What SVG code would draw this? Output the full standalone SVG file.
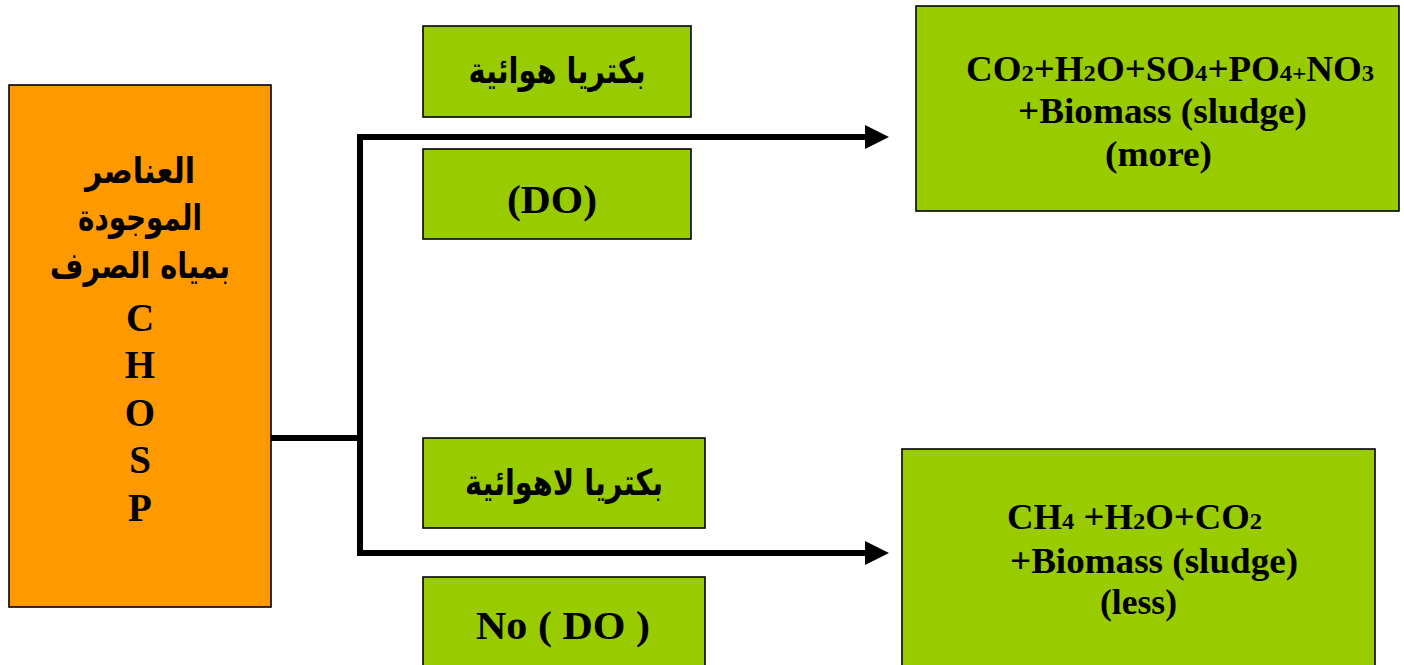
<svg xmlns="http://www.w3.org/2000/svg" width="1404" height="665" viewBox="0 0 1404 665">
<style>
.box{stroke:#000;stroke-width:1.6}
.g{fill:#99CC00}
.o{fill:#FF9900}
.en{font-family:"Liberation Serif","Times New Roman",serif;font-weight:bold;font-size:39px;fill:#000}
.rt{font-size:36px}
.ar{font-family:"DejaVu Sans","Noto Sans",sans-serif;font-weight:bold;font-size:36px;fill:#000}
.sub{font-size:24px}
.c{stroke:#000;stroke-width:6;fill:none}
</style>
<defs>
<marker id="ah" markerUnits="userSpaceOnUse" markerWidth="26" markerHeight="26" refX="1" refY="12" orient="auto">
<path d="M0,0 L24,12 L0,24 z" fill="#000"/>
</marker>
</defs>
<rect width="1404" height="665" fill="#fff"/>
<g id="connectors">
<path class="c" d="M271,438 H360"/>
<path class="c" d="M360,441 V137 H866" marker-end="url(#ah)"/>
<path class="c" d="M360,435 V553 H866" marker-end="url(#ah)"/>
</g>
<g id="source">
<rect class="box o" x="9" y="85" width="262" height="522"/>
<text class="ar" x="140" y="183" text-anchor="middle" direction="rtl" textLength="110" lengthAdjust="spacingAndGlyphs">العناصر</text>
<text class="ar" x="140" y="230" text-anchor="middle" direction="rtl" textLength="124" lengthAdjust="spacingAndGlyphs">الموجودة</text>
<text class="ar" x="140" y="278" text-anchor="middle" direction="rtl" textLength="180" lengthAdjust="spacingAndGlyphs">بمياه الصرف</text>
<text class="en" x="140" y="331" text-anchor="middle">C</text>
<text class="en" x="140" y="378" text-anchor="middle">H</text>
<text class="en" x="140" y="426" text-anchor="middle">O</text>
<text class="en" x="140" y="473" text-anchor="middle">S</text>
<text class="en" x="140" y="521" text-anchor="middle">P</text>
</g>
<g id="aerobic">
<rect class="box g" x="423" y="26" width="268" height="91"/>
<text class="ar" x="557" y="83" text-anchor="middle" direction="rtl" textLength="177" lengthAdjust="spacingAndGlyphs">بكتريا هوائية</text>
</g>
<g id="do">
<rect class="box g" x="423" y="149" width="268" height="90"/>
<text class="en" x="552" y="213" text-anchor="middle" textLength="90" lengthAdjust="spacingAndGlyphs">(DO)</text>
</g>
<g id="anaerobic">
<rect class="box g" x="423" y="438" width="282" height="90"/>
<text class="ar" x="564" y="495" text-anchor="middle" direction="rtl" textLength="198" lengthAdjust="spacingAndGlyphs">بكتريا لاهوائية</text>
</g>
<g id="nodo">
<rect class="box g" x="423" y="577" width="282" height="95"/>
<text class="en" x="563" y="639" text-anchor="middle" textLength="174" lengthAdjust="spacingAndGlyphs">No ( DO )</text>
</g>
<g id="aerobic-products">
<rect class="box g" x="916" y="6" width="483" height="205"/>
<text class="en rt" x="966" y="81" textLength="408" lengthAdjust="spacingAndGlyphs">CO<tspan class="sub">2</tspan>+H<tspan class="sub">2</tspan>O+SO<tspan class="sub">4</tspan>+PO<tspan class="sub">4+</tspan>NO<tspan class="sub">3</tspan></text>
<text class="en rt" x="1018" y="123" textLength="289" lengthAdjust="spacingAndGlyphs">+Biomass (sludge)</text>
<text class="en rt" x="1105" y="166" textLength="107" lengthAdjust="spacingAndGlyphs">(more)</text>
</g>
<g id="anaerobic-products">
<rect class="box g" x="902" y="449" width="473" height="230"/>
<text class="en rt" x="1007" y="529" textLength="255" lengthAdjust="spacingAndGlyphs">CH<tspan class="sub">4</tspan> +H<tspan class="sub">2</tspan>O+CO<tspan class="sub">2</tspan></text>
<text class="en rt" x="1010" y="573" textLength="288" lengthAdjust="spacingAndGlyphs">+Biomass (sludge)</text>
<text class="en rt" x="1100" y="614" textLength="77" lengthAdjust="spacingAndGlyphs">(less)</text>
</g>
</svg>
